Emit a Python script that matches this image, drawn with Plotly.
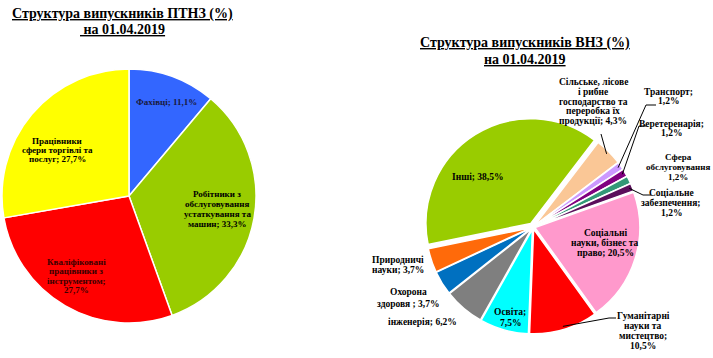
import math
import plotly.graph_objects as go

W, H = 713, 358

# ---------------- data ----------------
ptnz_labels = ["Фахівці", "Робітники з обслуговування устаткування та машин",
               "Кваліфіковані працівники з інструментом", "Працівники сфери торгівлі та послуг"]
ptnz_values = [11.1, 33.3, 27.7, 27.7]
ptnz_colors = ["#3366FF", "#99CC00", "#FF0000", "#FFFF00"]

vnz_labels = ["Інші", "Сільське, лісове і рибне господарство та переробка їх продукції",
              "Транспорт", "Веретеренарія", "Сфера обслуговування", "Соціальне забезпечення",
              "Соціальні науки, бізнес та право", "Гуманітарні науки та мистецтво",
              "Освіта", "інженерія", "Охорона здоровя", "Природничі науки"]
vnz_values = [38.5, 4.3, 1.2, 1.2, 1.2, 1.2, 20.5, 10.5, 7.5, 6.2, 3.7, 3.7]
vnz_colors = ["#99CC00", "#FAC796", "#CC99FF", "#800080", "#339977", "#5C0F5C",
              "#FF99CC", "#FF0000", "#00FFFF", "#7F7F7F", "#0070C0", "#FF6A0A"]
vnz_pull = [0.04, 0.02, 0.02, 0.02, 0.02, 0.02, 0.02, 0.02, 0.02, 0.02, 0.02, 0.02]
vnz_rotation = -101.6

# ---------------- layout helpers ----------------
def px(x):
    return x / W

def py(y):
    return 1 - y / H

left_dom = dict(x=[px(2), px(256)], y=[py(323), py(69)])
right_dom = dict(x=[px(424), px(642)], y=[py(336), py(118)])

fig = go.Figure()
fig.add_trace(go.Pie(
    labels=ptnz_labels, values=ptnz_values, sort=False, direction="clockwise", rotation=0,
    marker=dict(colors=ptnz_colors, line=dict(color="white", width=1.5)),
    textinfo="none", domain=left_dom, hoverinfo="label+value"))
fig.add_trace(go.Pie(
    labels=vnz_labels, values=vnz_values, sort=False, direction="clockwise", rotation=vnz_rotation,
    pull=vnz_pull,
    marker=dict(colors=vnz_colors, line=dict(color="white", width=1.5)),
    textinfo="none", domain=right_dom, hoverinfo="label+value"))

annotations = []
SERIF = "Liberation Serif, Times New Roman, DejaVu Serif, serif"

def add_text(lines, cx, cy, size, lh, color="black", bold=True):
    n = len(lines)
    for i, t in enumerate(lines):
        y = cy + (i - (n - 1) / 2) * lh
        txt = f"<b>{t}</b>" if bold else t
        annotations.append(dict(text=txt, x=px(cx), y=py(y), xref="paper", yref="paper",
                                xanchor="center", yanchor="middle", showarrow=False,
                                font=dict(family=SERIF, size=size, color=color)))

# titles
add_text(["<u>Структура випускників ПТНЗ (%)</u>", "<u> на 01.04.2019</u>"], 122, 21.5, 14, 15)
add_text(["<u>Структура випускників ВНЗ (%)</u>", "<u>на 01.04.2019</u>"], 525, 51.5, 14, 17)

# left pie labels
add_text(["Фахівці; 11,1%"], 166, 102, 9, 10, color="#1a1a40")
add_text(["Робітники з", "обслуговування", "устаткування та", "машин; 33,3%"], 217, 208.5, 9, 10)
add_text(["Кваліфіковані", "працівники з", "інструментом;", "27,7%"], 76, 276, 9, 9.5, color="#3a0000")
add_text(["Працівники", "сфери торгівлі та", "послуг; 27,7%"], 57, 150, 9, 9)

# right pie labels
F = 9.5
add_text(["Інші; 38,5%"], 478, 177, F, 10)
add_text(["Сільське, лісове", "і рибне", "господарство та", "переробка їх", "продукції; 4,3%"], 593, 101.5, F, 9.8)
add_text(["Транспорт;", "1,2%"], 668, 96.5, F, 9.5)
add_text(["Веретеренарія;", "1,2%"], 671, 128.5, F, 9.5)
add_text(["Сфера", "обслуговування", "1,2%"], 678, 167, 9, 10)
add_text(["Соціальне", "забезпечення;", "1,2%"], 671, 203, F, 10)
add_text(["Соціальні", "науки, бізнес та", "право; 20,5%"], 605, 243, F, 10)
add_text(["Гуманітарні", "науки та", "мистецтво;", "10,5%"], 643, 331, F, 10)
add_text(["Освіта;", "7,5%"], 510, 317.5, F, 11)
add_text(["інженерія; 6,2%"], 423, 322, F, 10)
add_text(["Охорона", "здоровя ; 3,7%"], 408, 298, F, 12)
add_text(["Природничі", "науки; 3,7%"], 398, 264.5, F, 10)

# leader lines: end on the slice edge computed from the pie geometry
cx = (right_dom["x"][0] + right_dom["x"][1]) / 2 * W
cy = (1 - (right_dom["y"][0] + right_dom["y"][1]) / 2) * H
size = min((right_dom["x"][1] - right_dom["x"][0]) * W, (right_dom["y"][1] - right_dom["y"][0]) * H)
r = size / (2 * (1 + max(vnz_pull)))
tot = sum(vnz_values)

def anchor(i, k=0.97):
    start = sum(vnz_values[:i]) / tot * 360 + vnz_rotation
    mid = math.radians(start + vnz_values[i] / tot * 180)
    d = r * (vnz_pull[i] + k)
    return cx + d * math.sin(mid), cy - d * math.cos(mid)

shapes = []
def leader(points, i):
    ax, ay = anchor(i)
    pts = points + [(ax, ay)]
    path = "M " + " L ".join(f"{px(x)},{py(y)}" for x, y in pts)
    shapes.append(dict(type="path", path=path, xref="paper", yref="paper",
                       line=dict(color="black", width=1)))

leader([(601, 134)], 1)
leader([(656, 105), (646, 105)], 2)
leader([(646, 126), (639, 126)], 3)
leader([(651, 195), (643, 195)], 5)
leader([(616, 318), (609, 318)], 7)

fig.update_layout(width=W, height=H, margin=dict(l=0, r=0, t=0, b=0),
                  paper_bgcolor="white", plot_bgcolor="white", showlegend=False,
                  annotations=annotations, shapes=shapes)
fig.write_html("out.html", config={"displayModeBar": False},
               post_script="document.body.style.margin='0';document.body.style.overflow='hidden';")
